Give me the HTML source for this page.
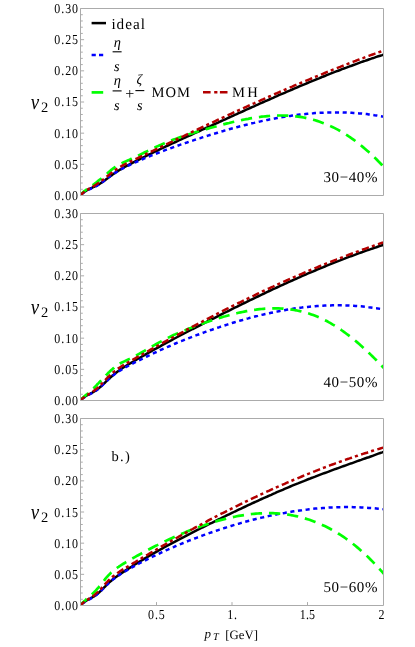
<!DOCTYPE html>
<html><head><meta charset="utf-8"><title>v2</title>
<style>
html,body{margin:0;padding:0;background:#fff;}
body{width:415px;height:647px;position:relative;overflow:hidden;font-family:"Liberation Serif",serif;}
</style></head><body>
<svg width="415" height="647" viewBox="0 0 415 647" style="position:absolute;left:0;top:0;will-change:transform">
<defs>
<clipPath id="c0"><rect x="80.5" y="8.5" width="303.0" height="187.0"/></clipPath>
<clipPath id="c1"><rect x="80.5" y="213.5" width="303.0" height="187.0"/></clipPath>
<clipPath id="c2"><rect x="80.5" y="418.5" width="303.0" height="187.0"/></clipPath>
</defs>
<g clip-path="url(#c0)" fill="none" stroke-width="2.8">
<path d="M80.5,195.3 L81.2,194.6 L81.8,194.0 L82.5,193.4 L83.2,192.8 L83.8,192.3 L84.5,191.8 L85.2,191.3 L85.9,190.9 L86.5,190.5 L87.2,190.1 L87.9,189.7 L88.5,189.4 L89.2,189.0 L89.9,188.7 L90.5,188.4 L91.2,188.1 L91.9,187.8 L92.6,187.5 L93.2,187.1 L93.9,186.8 L94.6,186.5 L95.2,186.2 L95.9,185.9 L96.6,185.6 L97.2,185.2 L97.9,184.9 L98.6,184.5 L99.2,184.1 L99.9,183.7 L100.6,183.3 L101.3,182.8 L101.9,182.4 L102.6,181.9 L103.3,181.5 L103.9,181.0 L104.6,180.5 L105.3,180.0 L105.9,179.5 L106.6,179.0 L107.3,178.5 L107.9,178.0 L108.6,177.5 L109.3,177.0 L110.0,176.5 L110.6,176.0 L111.3,175.6 L112.0,175.1 L112.6,174.6 L113.3,174.1 L114.0,173.6 L114.6,173.2 L115.3,172.7 L116.0,172.2 L116.7,171.8 L117.3,171.4 L118.0,170.9 L118.7,170.5 L119.3,170.1 L120.0,169.7 L121.9,168.6 L123.8,167.5 L125.7,166.4 L127.7,165.4 L129.6,164.4 L131.5,163.4 L133.4,162.4 L135.3,161.4 L137.2,160.4 L139.1,159.5 L141.1,158.5 L143.0,157.5 L144.9,156.6 L146.8,155.6 L148.7,154.7 L150.6,153.8 L152.5,152.8 L154.4,151.9 L156.4,151.0 L158.3,150.1 L160.2,149.1 L162.1,148.2 L164.0,147.3 L165.9,146.4 L167.8,145.5 L169.8,144.6 L171.7,143.7 L173.6,142.9 L175.5,142.0 L177.4,141.1 L179.3,140.2 L181.2,139.3 L183.2,138.4 L185.1,137.6 L187.0,136.7 L188.9,135.8 L190.8,135.0 L192.7,134.1 L194.6,133.2 L196.5,132.3 L198.5,131.5 L200.4,130.6 L202.3,129.7 L204.2,128.9 L206.1,128.0 L208.0,127.1 L209.9,126.3 L211.9,125.4 L213.8,124.5 L215.7,123.6 L217.6,122.8 L219.5,121.9 L221.4,121.0 L223.3,120.2 L225.3,119.3 L227.2,118.4 L229.1,117.5 L231.0,116.7 L232.9,115.8 L234.8,114.9 L236.7,114.1 L238.6,113.2 L240.6,112.3 L242.5,111.5 L244.4,110.6 L246.3,109.7 L248.2,108.9 L250.1,108.0 L252.0,107.1 L254.0,106.3 L255.9,105.4 L257.8,104.6 L259.7,103.7 L261.6,102.9 L263.5,102.0 L265.4,101.2 L267.4,100.3 L269.3,99.5 L271.2,98.6 L273.1,97.8 L275.0,96.9 L276.9,96.1 L278.8,95.2 L280.7,94.4 L282.7,93.6 L284.6,92.8 L286.5,91.9 L288.4,91.1 L290.3,90.3 L292.2,89.5 L294.1,88.6 L296.1,87.8 L298.0,87.0 L299.9,86.2 L301.8,85.4 L303.7,84.6 L305.6,83.8 L307.5,83.0 L309.5,82.2 L311.4,81.4 L313.3,80.6 L315.2,79.8 L317.1,79.0 L319.0,78.3 L320.9,77.5 L322.8,76.7 L324.8,76.0 L326.7,75.2 L328.6,74.4 L330.5,73.7 L332.4,72.9 L334.3,72.2 L336.2,71.4 L338.2,70.7 L340.1,70.0 L342.0,69.2 L343.9,68.5 L345.8,67.8 L347.7,67.1 L349.6,66.4 L351.6,65.7 L353.5,65.0 L355.4,64.3 L357.3,63.6 L359.2,62.9 L361.1,62.2 L363.0,61.5 L364.9,60.9 L366.9,60.2 L368.8,59.5 L370.7,58.9 L372.6,58.2 L374.5,57.6 L376.4,56.9 L378.3,56.3 L380.3,55.7 L382.2,55.1 L384.1,54.4 L386.0,53.8" stroke="#000" stroke-width="2.5"/>
<path d="M80.5,195.3 L81.2,194.6 L81.8,194.0 L82.5,193.4 L83.2,192.9 L83.8,192.4 L84.5,191.9 L85.2,191.5 L85.9,191.1 L86.5,190.7 L87.2,190.3 L87.9,190.0 L88.5,189.7 L89.2,189.4 L89.9,189.1 L90.5,188.8 L91.2,188.5 L91.9,188.2 L92.6,187.9 L93.2,187.6 L93.9,187.3 L94.6,187.0 L95.2,186.7 L95.9,186.3 L96.6,186.0 L97.2,185.6 L97.9,185.2 L98.6,184.8 L99.2,184.3 L99.9,183.9 L100.6,183.4 L101.3,182.9 L101.9,182.4 L102.6,181.9 L103.3,181.4 L103.9,180.9 L104.6,180.3 L105.3,179.8 L105.9,179.3 L106.6,178.8 L107.3,178.3 L107.9,177.7 L108.6,177.2 L109.3,176.8 L110.0,176.3 L110.6,175.8 L111.3,175.3 L112.0,174.9 L112.6,174.4 L113.3,174.0 L114.0,173.5 L114.6,173.1 L115.3,172.7 L116.0,172.3 L116.7,171.9 L117.3,171.5 L118.0,171.1 L118.7,170.7 L119.3,170.3 L120.0,169.9 L121.9,168.9 L123.8,167.9 L125.7,166.9 L127.7,165.9 L129.6,165.0 L131.5,164.1 L133.4,163.2 L135.3,162.4 L137.2,161.5 L139.1,160.7 L141.1,159.8 L143.0,159.0 L144.9,158.2 L146.8,157.4 L148.7,156.6 L150.6,155.8 L152.5,155.1 L154.4,154.3 L156.4,153.5 L158.3,152.8 L160.2,152.1 L162.1,151.3 L164.0,150.6 L165.9,149.9 L167.8,149.2 L169.8,148.5 L171.7,147.8 L173.6,147.1 L175.5,146.4 L177.4,145.8 L179.3,145.1 L181.2,144.4 L183.2,143.8 L185.1,143.1 L187.0,142.5 L188.9,141.8 L190.8,141.2 L192.7,140.6 L194.6,139.9 L196.5,139.3 L198.5,138.7 L200.4,138.1 L202.3,137.4 L204.2,136.8 L206.1,136.2 L208.0,135.6 L209.9,135.0 L211.9,134.4 L213.8,133.8 L215.7,133.3 L217.6,132.7 L219.5,132.1 L221.4,131.5 L223.3,131.0 L225.3,130.4 L227.2,129.9 L229.1,129.3 L231.0,128.8 L232.9,128.3 L234.8,127.7 L236.7,127.2 L238.6,126.7 L240.6,126.2 L242.5,125.7 L244.4,125.2 L246.3,124.7 L248.2,124.3 L250.1,123.8 L252.0,123.3 L254.0,122.9 L255.9,122.4 L257.8,122.0 L259.7,121.6 L261.6,121.1 L263.5,120.7 L265.4,120.3 L267.4,119.9 L269.3,119.5 L271.2,119.2 L273.1,118.8 L275.0,118.4 L276.9,118.1 L278.8,117.7 L280.7,117.4 L282.7,117.1 L284.6,116.8 L286.5,116.5 L288.4,116.2 L290.3,115.9 L292.2,115.6 L294.1,115.3 L296.1,115.1 L298.0,114.8 L299.9,114.6 L301.8,114.4 L303.7,114.2 L305.6,114.0 L307.5,113.8 L309.5,113.6 L311.4,113.4 L313.3,113.3 L315.2,113.1 L317.1,113.0 L319.0,112.9 L320.9,112.8 L322.8,112.7 L324.8,112.6 L326.7,112.5 L328.6,112.5 L330.5,112.4 L332.4,112.4 L334.3,112.4 L336.2,112.4 L338.2,112.4 L340.1,112.4 L342.0,112.4 L343.9,112.5 L345.8,112.5 L347.7,112.6 L349.6,112.7 L351.6,112.8 L353.5,112.9 L355.4,113.0 L357.3,113.2 L359.2,113.4 L361.1,113.5 L363.0,113.7 L364.9,113.9 L366.9,114.1 L368.8,114.4 L370.7,114.6 L372.6,114.9 L374.5,115.2 L376.4,115.4 L378.3,115.8 L380.3,116.1 L382.2,116.4 L384.1,116.8 L386.0,117.2" stroke="#0000ff" stroke-width="2.5" stroke-dasharray="4.1 3.6" stroke-dashoffset="5.82"/>
<path d="M80.5,195.3 L81.2,194.4 L81.8,193.7 L82.5,192.9 L83.2,192.3 L83.8,191.6 L84.5,191.1 L85.2,190.5 L85.9,190.0 L86.5,189.5 L87.2,189.1 L87.9,188.6 L88.5,188.2 L89.2,187.7 L89.9,187.3 L90.5,186.8 L91.2,186.3 L91.9,185.9 L92.6,185.4 L93.2,184.9 L93.9,184.4 L94.6,183.8 L95.2,183.3 L95.9,182.8 L96.6,182.2 L97.2,181.7 L97.9,181.1 L98.6,180.6 L99.2,180.0 L99.9,179.5 L100.6,179.0 L101.3,178.5 L101.9,177.9 L102.6,177.4 L103.3,176.8 L103.9,176.3 L104.6,175.7 L105.3,175.1 L105.9,174.6 L106.6,174.0 L107.3,173.4 L107.9,172.8 L108.6,172.2 L109.3,171.7 L110.0,171.1 L110.6,170.5 L111.3,169.9 L112.0,169.4 L112.6,168.9 L113.3,168.4 L114.0,167.9 L114.6,167.4 L115.3,167.0 L116.0,166.5 L116.7,166.1 L117.3,165.7 L118.0,165.3 L118.7,164.9 L119.3,164.5 L120.0,164.2 L121.9,163.2 L123.8,162.3 L125.7,161.4 L127.7,160.5 L129.6,159.7 L131.5,158.8 L133.4,157.9 L135.3,157.0 L137.2,156.1 L139.1,155.1 L141.1,154.2 L143.0,153.3 L144.9,152.3 L146.8,151.4 L148.7,150.5 L150.6,149.5 L152.5,148.6 L154.4,147.7 L156.4,146.8 L158.3,145.9 L160.2,145.1 L162.1,144.2 L164.0,143.4 L165.9,142.6 L167.8,141.8 L169.8,141.1 L171.7,140.3 L173.6,139.6 L175.5,138.9 L177.4,138.2 L179.3,137.5 L181.2,136.8 L183.2,136.2 L185.1,135.5 L187.0,134.9 L188.9,134.3 L190.8,133.7 L192.7,133.1 L194.6,132.5 L196.5,131.9 L198.5,131.3 L200.4,130.8 L202.3,130.2 L204.2,129.7 L206.1,129.1 L208.0,128.6 L209.9,128.0 L211.9,127.5 L213.8,127.0 L215.7,126.5 L217.6,125.9 L219.5,125.4 L221.4,124.9 L223.3,124.4 L225.3,123.9 L227.2,123.4 L229.1,123.0 L231.0,122.5 L232.9,122.0 L234.8,121.6 L236.7,121.1 L238.6,120.7 L240.6,120.3 L242.5,119.9 L244.4,119.5 L246.3,119.1 L248.2,118.8 L250.1,118.4 L252.0,118.1 L254.0,117.8 L255.9,117.5 L257.8,117.2 L259.7,117.0 L261.6,116.7 L263.5,116.5 L265.4,116.3 L267.4,116.1 L269.3,116.0 L271.2,115.8 L273.1,115.7 L275.0,115.6 L276.9,115.6 L278.8,115.5 L280.7,115.5 L282.7,115.5 L284.6,115.6 L286.5,115.6 L288.4,115.7 L290.3,115.8 L292.2,116.0 L294.1,116.2 L296.1,116.4 L298.0,116.6 L299.9,116.9 L301.8,117.2 L303.7,117.5 L305.6,117.9 L307.5,118.3 L309.5,118.8 L311.4,119.2 L313.3,119.7 L315.2,120.3 L317.1,120.9 L319.0,121.5 L320.9,122.2 L322.8,122.9 L324.8,123.6 L326.7,124.4 L328.6,125.2 L330.5,126.1 L332.4,127.0 L334.3,127.9 L336.2,128.9 L338.2,129.9 L340.1,131.0 L342.0,132.1 L343.9,133.3 L345.8,134.5 L347.7,135.7 L349.6,137.0 L351.6,138.3 L353.5,139.6 L355.4,141.0 L357.3,142.5 L359.2,144.0 L361.1,145.5 L363.0,147.1 L364.9,148.7 L366.9,150.4 L368.8,152.1 L370.7,153.8 L372.6,155.6 L374.5,157.4 L376.4,159.3 L378.3,161.3 L380.3,163.2 L382.2,165.2 L384.1,167.3 L386.0,169.4" stroke="#00ff00" stroke-width="2.7" stroke-dasharray="11.3 6.9" stroke-dashoffset="2.30"/>
<path d="M80.5,195.3 L81.2,194.6 L81.8,194.0 L82.5,193.3 L83.2,192.8 L83.8,192.2 L84.5,191.7 L85.2,191.2 L85.9,190.7 L86.5,190.3 L87.2,189.9 L87.9,189.5 L88.5,189.1 L89.2,188.7 L89.9,188.3 L90.5,187.9 L91.2,187.6 L91.9,187.2 L92.6,186.8 L93.2,186.4 L93.9,186.0 L94.6,185.6 L95.2,185.2 L95.9,184.8 L96.6,184.3 L97.2,183.9 L97.9,183.4 L98.6,182.9 L99.2,182.5 L99.9,182.0 L100.6,181.5 L101.3,181.0 L101.9,180.5 L102.6,179.9 L103.3,179.4 L103.9,178.9 L104.6,178.4 L105.3,177.8 L105.9,177.3 L106.6,176.8 L107.3,176.2 L107.9,175.7 L108.6,175.2 L109.3,174.7 L110.0,174.1 L110.6,173.6 L111.3,173.1 L112.0,172.6 L112.6,172.1 L113.3,171.6 L114.0,171.1 L114.6,170.6 L115.3,170.1 L116.0,169.6 L116.7,169.1 L117.3,168.7 L118.0,168.3 L118.7,167.8 L119.3,167.4 L120.0,167.0 L121.9,165.9 L123.8,164.8 L125.7,163.8 L127.7,162.9 L129.6,161.9 L131.5,161.0 L133.4,160.1 L135.3,159.2 L137.2,158.3 L139.1,157.4 L141.1,156.5 L143.0,155.5 L144.9,154.6 L146.8,153.7 L148.7,152.8 L150.6,151.9 L152.5,151.0 L154.4,150.0 L156.4,149.1 L158.3,148.2 L160.2,147.3 L162.1,146.4 L164.0,145.5 L165.9,144.5 L167.8,143.6 L169.8,142.7 L171.7,141.8 L173.6,140.9 L175.5,139.9 L177.4,139.0 L179.3,138.1 L181.2,137.2 L183.2,136.3 L185.1,135.4 L187.0,134.5 L188.9,133.5 L190.8,132.6 L192.7,131.7 L194.6,130.8 L196.5,129.9 L198.5,129.0 L200.4,128.1 L202.3,127.2 L204.2,126.3 L206.1,125.4 L208.0,124.5 L209.9,123.6 L211.9,122.7 L213.8,121.8 L215.7,120.9 L217.6,120.0 L219.5,119.1 L221.4,118.2 L223.3,117.3 L225.3,116.5 L227.2,115.6 L229.1,114.7 L231.0,113.8 L232.9,112.9 L234.8,112.0 L236.7,111.2 L238.6,110.3 L240.6,109.4 L242.5,108.5 L244.4,107.7 L246.3,106.8 L248.2,105.9 L250.1,105.1 L252.0,104.2 L254.0,103.4 L255.9,102.5 L257.8,101.6 L259.7,100.8 L261.6,99.9 L263.5,99.1 L265.4,98.2 L267.4,97.4 L269.3,96.5 L271.2,95.7 L273.1,94.8 L275.0,94.0 L276.9,93.2 L278.8,92.3 L280.7,91.5 L282.7,90.7 L284.6,89.8 L286.5,89.0 L288.4,88.2 L290.3,87.4 L292.2,86.6 L294.1,85.7 L296.1,84.9 L298.0,84.1 L299.9,83.3 L301.8,82.5 L303.7,81.7 L305.6,80.9 L307.5,80.1 L309.5,79.3 L311.4,78.5 L313.3,77.7 L315.2,76.9 L317.1,76.1 L319.0,75.3 L320.9,74.6 L322.8,73.8 L324.8,73.0 L326.7,72.2 L328.6,71.5 L330.5,70.7 L332.4,69.9 L334.3,69.2 L336.2,68.4 L338.2,67.6 L340.1,66.9 L342.0,66.1 L343.9,65.4 L345.8,64.6 L347.7,63.9 L349.6,63.2 L351.6,62.4 L353.5,61.7 L355.4,61.0 L357.3,60.2 L359.2,59.5 L361.1,58.8 L363.0,58.1 L364.9,57.3 L366.9,56.6 L368.8,55.9 L370.7,55.2 L372.6,54.5 L374.5,53.8 L376.4,53.1 L378.3,52.4 L380.3,51.7 L382.2,51.0 L384.1,50.4 L386.0,49.7" stroke="#b30000" stroke-width="2.5" stroke-dasharray="7.4 3.1 3.1 3.4" stroke-dashoffset="1.90"/>
</g>
<g stroke="#ababab" stroke-width="1" fill="none">
<path d="M80.5,195.5 V8.5 H383.5 V195.5 Z"/>
<path d="M80.5,195.50 h3.6 M80.5,189.27 h2.3 M80.5,183.03 h2.3 M80.5,176.80 h2.3 M80.5,170.57 h2.3 M80.5,164.33 h3.6 M80.5,158.10 h2.3 M80.5,151.87 h2.3 M80.5,145.63 h2.3 M80.5,139.40 h2.3 M80.5,133.17 h3.6 M80.5,126.93 h2.3 M80.5,120.70 h2.3 M80.5,114.47 h2.3 M80.5,108.23 h2.3 M80.5,102.00 h3.6 M80.5,95.77 h2.3 M80.5,89.53 h2.3 M80.5,83.30 h2.3 M80.5,77.07 h2.3 M80.5,70.83 h3.6 M80.5,64.60 h2.3 M80.5,58.37 h2.3 M80.5,52.13 h2.3 M80.5,45.90 h2.3 M80.5,39.67 h3.6 M80.5,33.43 h2.3 M80.5,27.20 h2.3 M80.5,20.97 h2.3 M80.5,14.73 h2.3 M80.5,8.50 h3.6"/>
</g>
<g clip-path="url(#c1)" fill="none" stroke-width="2.8">
<path d="M80.5,400.3 L81.2,399.6 L81.8,399.0 L82.5,398.4 L83.2,397.9 L83.8,397.4 L84.5,396.9 L85.2,396.4 L85.9,396.0 L86.5,395.6 L87.2,395.2 L87.9,394.8 L88.5,394.5 L89.2,394.1 L89.9,393.8 L90.5,393.5 L91.2,393.1 L91.9,392.8 L92.6,392.4 L93.2,392.0 L93.9,391.7 L94.6,391.3 L95.2,390.8 L95.9,390.4 L96.6,389.9 L97.2,389.5 L97.9,389.0 L98.6,388.4 L99.2,387.9 L99.9,387.3 L100.6,386.7 L101.3,386.1 L101.9,385.5 L102.6,384.9 L103.3,384.2 L103.9,383.6 L104.6,383.0 L105.3,382.3 L105.9,381.7 L106.6,381.0 L107.3,380.4 L107.9,379.7 L108.6,379.1 L109.3,378.5 L110.0,377.9 L110.6,377.3 L111.3,376.7 L112.0,376.1 L112.6,375.5 L113.3,374.9 L114.0,374.4 L114.6,373.8 L115.3,373.3 L116.0,372.8 L116.7,372.2 L117.3,371.7 L118.0,371.2 L118.7,370.7 L119.3,370.3 L120.0,369.8 L121.9,368.5 L123.8,367.3 L125.7,366.1 L127.7,364.9 L129.6,363.8 L131.5,362.6 L133.4,361.5 L135.3,360.3 L137.2,359.2 L139.1,358.1 L141.1,357.0 L143.0,355.9 L144.9,354.8 L146.8,353.7 L148.7,352.6 L150.6,351.6 L152.5,350.5 L154.4,349.4 L156.4,348.4 L158.3,347.3 L160.2,346.3 L162.1,345.2 L164.0,344.2 L165.9,343.1 L167.8,342.1 L169.8,341.1 L171.7,340.1 L173.6,339.0 L175.5,338.0 L177.4,337.0 L179.3,336.0 L181.2,335.0 L183.2,334.0 L185.1,333.0 L187.0,332.0 L188.9,331.0 L190.8,330.0 L192.7,329.0 L194.6,328.1 L196.5,327.1 L198.5,326.1 L200.4,325.1 L202.3,324.1 L204.2,323.1 L206.1,322.2 L208.0,321.2 L209.9,320.2 L211.9,319.2 L213.8,318.3 L215.7,317.3 L217.6,316.3 L219.5,315.4 L221.4,314.4 L223.3,313.4 L225.3,312.5 L227.2,311.5 L229.1,310.6 L231.0,309.6 L232.9,308.7 L234.8,307.7 L236.7,306.8 L238.6,305.8 L240.6,304.9 L242.5,303.9 L244.4,303.0 L246.3,302.1 L248.2,301.1 L250.1,300.2 L252.0,299.3 L254.0,298.3 L255.9,297.4 L257.8,296.5 L259.7,295.6 L261.6,294.7 L263.5,293.8 L265.4,292.8 L267.4,291.9 L269.3,291.0 L271.2,290.1 L273.1,289.2 L275.0,288.4 L276.9,287.5 L278.8,286.6 L280.7,285.7 L282.7,284.8 L284.6,283.9 L286.5,283.1 L288.4,282.2 L290.3,281.3 L292.2,280.5 L294.1,279.6 L296.1,278.8 L298.0,277.9 L299.9,277.1 L301.8,276.2 L303.7,275.4 L305.6,274.6 L307.5,273.7 L309.5,272.9 L311.4,272.1 L313.3,271.3 L315.2,270.5 L317.1,269.7 L319.0,268.9 L320.9,268.1 L322.8,267.3 L324.8,266.5 L326.7,265.7 L328.6,264.9 L330.5,264.2 L332.4,263.4 L334.3,262.6 L336.2,261.9 L338.2,261.1 L340.1,260.4 L342.0,259.6 L343.9,258.9 L345.8,258.1 L347.7,257.4 L349.6,256.7 L351.6,256.0 L353.5,255.3 L355.4,254.6 L357.3,253.9 L359.2,253.2 L361.1,252.5 L363.0,251.8 L364.9,251.1 L366.9,250.4 L368.8,249.8 L370.7,249.1 L372.6,248.5 L374.5,247.8 L376.4,247.2 L378.3,246.5 L380.3,245.9 L382.2,245.3 L384.1,244.7 L386.0,244.1" stroke="#000" stroke-width="2.5"/>
<path d="M80.5,400.3 L81.2,399.7 L81.8,399.1 L82.5,398.6 L83.2,398.1 L83.8,397.6 L84.5,397.2 L85.2,396.8 L85.9,396.4 L86.5,396.0 L87.2,395.6 L87.9,395.2 L88.5,394.9 L89.2,394.6 L89.9,394.2 L90.5,393.9 L91.2,393.5 L91.9,393.2 L92.6,392.8 L93.2,392.4 L93.9,392.0 L94.6,391.6 L95.2,391.2 L95.9,390.7 L96.6,390.2 L97.2,389.7 L97.9,389.2 L98.6,388.7 L99.2,388.1 L99.9,387.5 L100.6,386.9 L101.3,386.3 L101.9,385.7 L102.6,385.0 L103.3,384.4 L103.9,383.7 L104.6,383.1 L105.3,382.4 L105.9,381.8 L106.6,381.1 L107.3,380.5 L107.9,379.9 L108.6,379.2 L109.3,378.6 L110.0,378.0 L110.6,377.5 L111.3,376.9 L112.0,376.3 L112.6,375.8 L113.3,375.3 L114.0,374.7 L114.6,374.2 L115.3,373.7 L116.0,373.3 L116.7,372.8 L117.3,372.3 L118.0,371.9 L118.7,371.4 L119.3,371.0 L120.0,370.6 L121.9,369.4 L123.8,368.3 L125.7,367.2 L127.7,366.2 L129.6,365.2 L131.5,364.2 L133.4,363.2 L135.3,362.2 L137.2,361.2 L139.1,360.3 L141.1,359.3 L143.0,358.4 L144.9,357.4 L146.8,356.5 L148.7,355.6 L150.6,354.6 L152.5,353.7 L154.4,352.8 L156.4,352.0 L158.3,351.1 L160.2,350.2 L162.1,349.3 L164.0,348.5 L165.9,347.6 L167.8,346.8 L169.8,346.0 L171.7,345.1 L173.6,344.3 L175.5,343.5 L177.4,342.7 L179.3,341.9 L181.2,341.2 L183.2,340.4 L185.1,339.6 L187.0,338.9 L188.9,338.1 L190.8,337.4 L192.7,336.6 L194.6,335.9 L196.5,335.2 L198.5,334.5 L200.4,333.8 L202.3,333.1 L204.2,332.4 L206.1,331.7 L208.0,331.0 L209.9,330.3 L211.9,329.7 L213.8,329.0 L215.7,328.3 L217.6,327.7 L219.5,327.1 L221.4,326.4 L223.3,325.8 L225.3,325.2 L227.2,324.6 L229.1,324.0 L231.0,323.4 L232.9,322.8 L234.8,322.2 L236.7,321.6 L238.6,321.1 L240.6,320.5 L242.5,320.0 L244.4,319.4 L246.3,318.9 L248.2,318.4 L250.1,317.8 L252.0,317.3 L254.0,316.8 L255.9,316.3 L257.8,315.9 L259.7,315.4 L261.6,314.9 L263.5,314.5 L265.4,314.0 L267.4,313.6 L269.3,313.2 L271.2,312.8 L273.1,312.4 L275.0,312.0 L276.9,311.6 L278.8,311.2 L280.7,310.8 L282.7,310.5 L284.6,310.2 L286.5,309.8 L288.4,309.5 L290.3,309.2 L292.2,308.9 L294.1,308.6 L296.1,308.3 L298.0,308.1 L299.9,307.8 L301.8,307.6 L303.7,307.3 L305.6,307.1 L307.5,306.9 L309.5,306.7 L311.4,306.5 L313.3,306.4 L315.2,306.2 L317.1,306.0 L319.0,305.9 L320.9,305.8 L322.8,305.7 L324.8,305.6 L326.7,305.5 L328.6,305.4 L330.5,305.4 L332.4,305.3 L334.3,305.3 L336.2,305.3 L338.2,305.3 L340.1,305.3 L342.0,305.3 L343.9,305.4 L345.8,305.4 L347.7,305.5 L349.6,305.6 L351.6,305.7 L353.5,305.8 L355.4,305.9 L357.3,306.0 L359.2,306.2 L361.1,306.3 L363.0,306.5 L364.9,306.7 L366.9,306.9 L368.8,307.2 L370.7,307.4 L372.6,307.7 L374.5,308.0 L376.4,308.2 L378.3,308.6 L380.3,308.9 L382.2,309.2 L384.1,309.6 L386.0,309.9" stroke="#0000ff" stroke-width="2.5" stroke-dasharray="4.1 3.6" stroke-dashoffset="5.65"/>
<path d="M80.5,400.3 L81.2,399.5 L81.8,398.8 L82.5,398.1 L83.2,397.4 L83.8,396.8 L84.5,396.2 L85.2,395.6 L85.9,395.1 L86.5,394.5 L87.2,394.0 L87.9,393.4 L88.5,392.9 L89.2,392.3 L89.9,391.7 L90.5,391.1 L91.2,390.5 L91.9,389.9 L92.6,389.3 L93.2,388.6 L93.9,388.0 L94.6,387.3 L95.2,386.6 L95.9,385.9 L96.6,385.2 L97.2,384.5 L97.9,383.8 L98.6,383.1 L99.2,382.4 L99.9,381.7 L100.6,381.0 L101.3,380.3 L101.9,379.6 L102.6,378.9 L103.3,378.1 L103.9,377.4 L104.6,376.7 L105.3,376.0 L105.9,375.3 L106.6,374.7 L107.3,374.0 L107.9,373.3 L108.6,372.6 L109.3,372.0 L110.0,371.3 L110.6,370.7 L111.3,370.1 L112.0,369.5 L112.6,368.9 L113.3,368.3 L114.0,367.8 L114.6,367.2 L115.3,366.7 L116.0,366.2 L116.7,365.7 L117.3,365.2 L118.0,364.8 L118.7,364.3 L119.3,363.9 L120.0,363.5 L121.9,362.5 L123.8,361.6 L125.7,360.7 L127.7,359.8 L129.6,358.9 L131.5,358.0 L133.4,357.0 L135.3,356.0 L137.2,354.9 L139.1,353.9 L141.1,352.8 L143.0,351.7 L144.9,350.6 L146.8,349.5 L148.7,348.4 L150.6,347.3 L152.5,346.2 L154.4,345.1 L156.4,344.0 L158.3,342.9 L160.2,341.9 L162.1,340.9 L164.0,339.8 L165.9,338.9 L167.8,337.9 L169.8,337.0 L171.7,336.0 L173.6,335.1 L175.5,334.3 L177.4,333.4 L179.3,332.6 L181.2,331.8 L183.2,330.9 L185.1,330.2 L187.0,329.4 L188.9,328.6 L190.8,327.9 L192.7,327.1 L194.6,326.4 L196.5,325.7 L198.5,325.0 L200.4,324.3 L202.3,323.7 L204.2,323.0 L206.1,322.3 L208.0,321.7 L209.9,321.0 L211.9,320.4 L213.8,319.8 L215.7,319.2 L217.6,318.6 L219.5,318.0 L221.4,317.4 L223.3,316.8 L225.3,316.3 L227.2,315.7 L229.1,315.2 L231.0,314.7 L232.9,314.2 L234.8,313.7 L236.7,313.3 L238.6,312.8 L240.6,312.4 L242.5,312.0 L244.4,311.6 L246.3,311.2 L248.2,310.9 L250.1,310.5 L252.0,310.2 L254.0,309.9 L255.9,309.7 L257.8,309.4 L259.7,309.2 L261.6,309.0 L263.5,308.8 L265.4,308.7 L267.4,308.6 L269.3,308.5 L271.2,308.4 L273.1,308.4 L275.0,308.4 L276.9,308.4 L278.8,308.4 L280.7,308.5 L282.7,308.6 L284.6,308.8 L286.5,309.0 L288.4,309.2 L290.3,309.4 L292.2,309.7 L294.1,310.0 L296.1,310.3 L298.0,310.7 L299.9,311.1 L301.8,311.6 L303.7,312.0 L305.6,312.6 L307.5,313.1 L309.5,313.7 L311.4,314.4 L313.3,315.1 L315.2,315.8 L317.1,316.6 L319.0,317.4 L320.9,318.2 L322.8,319.1 L324.8,320.1 L326.7,321.0 L328.6,322.1 L330.5,323.1 L332.4,324.3 L334.3,325.4 L336.2,326.6 L338.2,327.9 L340.1,329.1 L342.0,330.5 L343.9,331.8 L345.8,333.2 L347.7,334.7 L349.6,336.1 L351.6,337.7 L353.5,339.2 L355.4,340.8 L357.3,342.4 L359.2,344.0 L361.1,345.7 L363.0,347.4 L364.9,349.2 L366.9,351.0 L368.8,352.8 L370.7,354.6 L372.6,356.5 L374.5,358.4 L376.4,360.3 L378.3,362.3 L380.3,364.3 L382.2,366.3 L384.1,368.3 L386.0,370.4" stroke="#00ff00" stroke-width="2.7" stroke-dasharray="11.3 6.9" stroke-dashoffset="0.73"/>
<path d="M80.5,400.3 L81.2,399.6 L81.8,399.0 L82.5,398.4 L83.2,397.9 L83.8,397.4 L84.5,396.9 L85.2,396.4 L85.9,395.9 L86.5,395.5 L87.2,395.1 L87.9,394.7 L88.5,394.2 L89.2,393.8 L89.9,393.4 L90.5,393.0 L91.2,392.6 L91.9,392.2 L92.6,391.7 L93.2,391.3 L93.9,390.8 L94.6,390.3 L95.2,389.8 L95.9,389.3 L96.6,388.7 L97.2,388.2 L97.9,387.6 L98.6,386.9 L99.2,386.3 L99.9,385.6 L100.6,384.9 L101.3,384.3 L101.9,383.5 L102.6,382.8 L103.3,382.1 L103.9,381.4 L104.6,380.7 L105.3,380.0 L105.9,379.3 L106.6,378.6 L107.3,377.9 L107.9,377.2 L108.6,376.5 L109.3,375.9 L110.0,375.2 L110.6,374.6 L111.3,374.0 L112.0,373.4 L112.6,372.8 L113.3,372.2 L114.0,371.7 L114.6,371.1 L115.3,370.6 L116.0,370.1 L116.7,369.6 L117.3,369.1 L118.0,368.6 L118.7,368.2 L119.3,367.7 L120.0,367.3 L121.9,366.0 L123.8,364.9 L125.7,363.8 L127.7,362.7 L129.6,361.6 L131.5,360.5 L133.4,359.4 L135.3,358.3 L137.2,357.2 L139.1,356.2 L141.1,355.1 L143.0,354.0 L144.9,352.9 L146.8,351.9 L148.7,350.8 L150.6,349.7 L152.5,348.6 L154.4,347.6 L156.4,346.5 L158.3,345.4 L160.2,344.4 L162.1,343.3 L164.0,342.2 L165.9,341.2 L167.8,340.1 L169.8,339.1 L171.7,338.0 L173.6,337.0 L175.5,335.9 L177.4,334.9 L179.3,333.9 L181.2,332.8 L183.2,331.8 L185.1,330.7 L187.0,329.7 L188.9,328.7 L190.8,327.7 L192.7,326.6 L194.6,325.6 L196.5,324.6 L198.5,323.6 L200.4,322.6 L202.3,321.6 L204.2,320.5 L206.1,319.5 L208.0,318.5 L209.9,317.6 L211.9,316.6 L213.8,315.6 L215.7,314.6 L217.6,313.6 L219.5,312.6 L221.4,311.6 L223.3,310.7 L225.3,309.7 L227.2,308.7 L229.1,307.8 L231.0,306.8 L232.9,305.8 L234.8,304.9 L236.7,303.9 L238.6,303.0 L240.6,302.1 L242.5,301.1 L244.4,300.2 L246.3,299.2 L248.2,298.3 L250.1,297.4 L252.0,296.5 L254.0,295.6 L255.9,294.6 L257.8,293.7 L259.7,292.8 L261.6,291.9 L263.5,291.0 L265.4,290.1 L267.4,289.2 L269.3,288.3 L271.2,287.4 L273.1,286.6 L275.0,285.7 L276.9,284.8 L278.8,283.9 L280.7,283.1 L282.7,282.2 L284.6,281.3 L286.5,280.5 L288.4,279.6 L290.3,278.8 L292.2,277.9 L294.1,277.1 L296.1,276.3 L298.0,275.4 L299.9,274.6 L301.8,273.8 L303.7,273.0 L305.6,272.1 L307.5,271.3 L309.5,270.5 L311.4,269.7 L313.3,268.9 L315.2,268.1 L317.1,267.3 L319.0,266.5 L320.9,265.7 L322.8,265.0 L324.8,264.2 L326.7,263.4 L328.6,262.6 L330.5,261.9 L332.4,261.1 L334.3,260.3 L336.2,259.6 L338.2,258.8 L340.1,258.1 L342.0,257.4 L343.9,256.6 L345.8,255.9 L347.7,255.2 L349.6,254.4 L351.6,253.7 L353.5,253.0 L355.4,252.3 L357.3,251.6 L359.2,250.9 L361.1,250.2 L363.0,249.5 L364.9,248.8 L366.9,248.1 L368.8,247.4 L370.7,246.7 L372.6,246.1 L374.5,245.4 L376.4,244.7 L378.3,244.1 L380.3,243.4 L382.2,242.8 L384.1,242.1 L386.0,241.5" stroke="#b30000" stroke-width="2.5" stroke-dasharray="7.4 3.1 3.1 3.4" stroke-dashoffset="1.88"/>
</g>
<g stroke="#ababab" stroke-width="1" fill="none">
<path d="M80.5,400.5 V213.5 H383.5 V400.5 Z"/>
<path d="M80.5,400.50 h3.6 M80.5,394.27 h2.3 M80.5,388.03 h2.3 M80.5,381.80 h2.3 M80.5,375.57 h2.3 M80.5,369.33 h3.6 M80.5,363.10 h2.3 M80.5,356.87 h2.3 M80.5,350.63 h2.3 M80.5,344.40 h2.3 M80.5,338.17 h3.6 M80.5,331.93 h2.3 M80.5,325.70 h2.3 M80.5,319.47 h2.3 M80.5,313.23 h2.3 M80.5,307.00 h3.6 M80.5,300.77 h2.3 M80.5,294.53 h2.3 M80.5,288.30 h2.3 M80.5,282.07 h2.3 M80.5,275.83 h3.6 M80.5,269.60 h2.3 M80.5,263.37 h2.3 M80.5,257.13 h2.3 M80.5,250.90 h2.3 M80.5,244.67 h3.6 M80.5,238.43 h2.3 M80.5,232.20 h2.3 M80.5,225.97 h2.3 M80.5,219.73 h2.3 M80.5,213.50 h3.6"/>
</g>
<g clip-path="url(#c2)" fill="none" stroke-width="2.8">
<path d="M80.5,605.3 L81.2,604.6 L81.8,604.0 L82.5,603.4 L83.2,602.8 L83.8,602.3 L84.5,601.8 L85.2,601.3 L85.9,600.9 L86.5,600.5 L87.2,600.1 L87.9,599.7 L88.5,599.3 L89.2,599.0 L89.9,598.6 L90.5,598.3 L91.2,597.9 L91.9,597.5 L92.6,597.2 L93.2,596.8 L93.9,596.4 L94.6,595.9 L95.2,595.5 L95.9,595.0 L96.6,594.5 L97.2,594.0 L97.9,593.4 L98.6,592.9 L99.2,592.3 L99.9,591.6 L100.6,591.0 L101.3,590.3 L101.9,589.7 L102.6,589.0 L103.3,588.3 L103.9,587.6 L104.6,587.0 L105.3,586.3 L105.9,585.6 L106.6,584.9 L107.3,584.3 L107.9,583.6 L108.6,583.0 L109.3,582.4 L110.0,581.8 L110.6,581.3 L111.3,580.7 L112.0,580.1 L112.6,579.6 L113.3,579.1 L114.0,578.6 L114.6,578.1 L115.3,577.6 L116.0,577.1 L116.7,576.6 L117.3,576.1 L118.0,575.6 L118.7,575.2 L119.3,574.7 L120.0,574.2 L121.9,572.9 L123.8,571.6 L125.7,570.4 L127.7,569.1 L129.6,567.9 L131.5,566.7 L133.4,565.5 L135.3,564.3 L137.2,563.1 L139.1,561.9 L141.1,560.7 L143.0,559.6 L144.9,558.4 L146.8,557.3 L148.7,556.2 L150.6,555.1 L152.5,554.0 L154.4,552.9 L156.4,551.8 L158.3,550.7 L160.2,549.6 L162.1,548.6 L164.0,547.5 L165.9,546.4 L167.8,545.4 L169.8,544.4 L171.7,543.3 L173.6,542.3 L175.5,541.3 L177.4,540.3 L179.3,539.3 L181.2,538.3 L183.2,537.3 L185.1,536.3 L187.0,535.3 L188.9,534.3 L190.8,533.4 L192.7,532.4 L194.6,531.4 L196.5,530.4 L198.5,529.5 L200.4,528.5 L202.3,527.5 L204.2,526.6 L206.1,525.6 L208.0,524.7 L209.9,523.7 L211.9,522.8 L213.8,521.8 L215.7,520.9 L217.6,519.9 L219.5,519.0 L221.4,518.0 L223.3,517.1 L225.3,516.2 L227.2,515.2 L229.1,514.3 L231.0,513.4 L232.9,512.5 L234.8,511.5 L236.7,510.6 L238.6,509.7 L240.6,508.8 L242.5,507.9 L244.4,507.0 L246.3,506.1 L248.2,505.2 L250.1,504.3 L252.0,503.4 L254.0,502.5 L255.9,501.7 L257.8,500.8 L259.7,499.9 L261.6,499.0 L263.5,498.2 L265.4,497.3 L267.4,496.5 L269.3,495.6 L271.2,494.8 L273.1,493.9 L275.0,493.1 L276.9,492.2 L278.8,491.4 L280.7,490.6 L282.7,489.8 L284.6,488.9 L286.5,488.1 L288.4,487.3 L290.3,486.5 L292.2,485.7 L294.1,484.9 L296.1,484.1 L298.0,483.4 L299.9,482.6 L301.8,481.8 L303.7,481.1 L305.6,480.3 L307.5,479.5 L309.5,478.8 L311.4,478.0 L313.3,477.3 L315.2,476.6 L317.1,475.8 L319.0,475.1 L320.9,474.4 L322.8,473.7 L324.8,473.0 L326.7,472.3 L328.6,471.6 L330.5,470.8 L332.4,470.1 L334.3,469.4 L336.2,468.8 L338.2,468.1 L340.1,467.4 L342.0,466.7 L343.9,466.0 L345.8,465.3 L347.7,464.6 L349.6,463.9 L351.6,463.3 L353.5,462.6 L355.4,461.9 L357.3,461.2 L359.2,460.5 L361.1,459.9 L363.0,459.2 L364.9,458.5 L366.9,457.8 L368.8,457.2 L370.7,456.5 L372.6,455.8 L374.5,455.1 L376.4,454.4 L378.3,453.7 L380.3,453.0 L382.2,452.4 L384.1,451.7 L386.0,451.0" stroke="#000" stroke-width="2.5"/>
<path d="M80.5,605.3 L81.2,604.7 L81.8,604.1 L82.5,603.6 L83.2,603.1 L83.8,602.6 L84.5,602.2 L85.2,601.7 L85.9,601.3 L86.5,600.9 L87.2,600.6 L87.9,600.2 L88.5,599.8 L89.2,599.4 L89.9,599.1 L90.5,598.7 L91.2,598.3 L91.9,597.9 L92.6,597.5 L93.2,597.1 L93.9,596.7 L94.6,596.2 L95.2,595.8 L95.9,595.3 L96.6,594.8 L97.2,594.2 L97.9,593.7 L98.6,593.1 L99.2,592.5 L99.9,591.8 L100.6,591.2 L101.3,590.5 L101.9,589.9 L102.6,589.2 L103.3,588.5 L103.9,587.8 L104.6,587.2 L105.3,586.5 L105.9,585.8 L106.6,585.1 L107.3,584.5 L107.9,583.8 L108.6,583.2 L109.3,582.6 L110.0,582.0 L110.6,581.4 L111.3,580.8 L112.0,580.3 L112.6,579.7 L113.3,579.2 L114.0,578.7 L114.6,578.2 L115.3,577.7 L116.0,577.2 L116.7,576.7 L117.3,576.2 L118.0,575.8 L118.7,575.3 L119.3,574.9 L120.0,574.4 L121.9,573.2 L123.8,572.1 L125.7,571.0 L127.7,569.9 L129.6,568.8 L131.5,567.7 L133.4,566.6 L135.3,565.6 L137.2,564.6 L139.1,563.5 L141.1,562.5 L143.0,561.5 L144.9,560.6 L146.8,559.6 L148.7,558.6 L150.6,557.7 L152.5,556.7 L154.4,555.8 L156.4,554.9 L158.3,554.0 L160.2,553.1 L162.1,552.2 L164.0,551.3 L165.9,550.4 L167.8,549.6 L169.8,548.7 L171.7,547.9 L173.6,547.1 L175.5,546.2 L177.4,545.4 L179.3,544.6 L181.2,543.8 L183.2,543.0 L185.1,542.3 L187.0,541.5 L188.9,540.7 L190.8,540.0 L192.7,539.2 L194.6,538.5 L196.5,537.8 L198.5,537.1 L200.4,536.4 L202.3,535.6 L204.2,534.9 L206.1,534.3 L208.0,533.6 L209.9,532.9 L211.9,532.2 L213.8,531.6 L215.7,530.9 L217.6,530.3 L219.5,529.6 L221.4,529.0 L223.3,528.4 L225.3,527.8 L227.2,527.1 L229.1,526.6 L231.0,526.0 L232.9,525.4 L234.8,524.8 L236.7,524.2 L238.6,523.7 L240.6,523.1 L242.5,522.6 L244.4,522.0 L246.3,521.5 L248.2,521.0 L250.1,520.5 L252.0,520.0 L254.0,519.5 L255.9,519.0 L257.8,518.5 L259.7,518.1 L261.6,517.6 L263.5,517.2 L265.4,516.7 L267.4,516.3 L269.3,515.9 L271.2,515.5 L273.1,515.1 L275.0,514.7 L276.9,514.3 L278.8,513.9 L280.7,513.6 L282.7,513.2 L284.6,512.9 L286.5,512.5 L288.4,512.2 L290.3,511.9 L292.2,511.6 L294.1,511.3 L296.1,511.0 L298.0,510.7 L299.9,510.4 L301.8,510.2 L303.7,509.9 L305.6,509.7 L307.5,509.5 L309.5,509.2 L311.4,509.0 L313.3,508.8 L315.2,508.6 L317.1,508.5 L319.0,508.3 L320.9,508.2 L322.8,508.0 L324.8,507.9 L326.7,507.8 L328.6,507.6 L330.5,507.5 L332.4,507.4 L334.3,507.4 L336.2,507.3 L338.2,507.2 L340.1,507.2 L342.0,507.2 L343.9,507.1 L345.8,507.1 L347.7,507.1 L349.6,507.1 L351.6,507.1 L353.5,507.2 L355.4,507.2 L357.3,507.3 L359.2,507.3 L361.1,507.4 L363.0,507.5 L364.9,507.6 L366.9,507.7 L368.8,507.9 L370.7,508.0 L372.6,508.1 L374.5,508.3 L376.4,508.5 L378.3,508.7 L380.3,508.9 L382.2,509.1 L384.1,509.3 L386.0,509.5" stroke="#0000ff" stroke-width="2.5" stroke-dasharray="4.1 3.6" stroke-dashoffset="5.77"/>
<path d="M80.5,605.3 L81.2,604.5 L81.8,603.7 L82.5,603.0 L83.2,602.3 L83.8,601.6 L84.5,601.0 L85.2,600.4 L85.9,599.7 L86.5,599.1 L87.2,598.6 L87.9,598.0 L88.5,597.4 L89.2,596.8 L89.9,596.2 L90.5,595.6 L91.2,595.0 L91.9,594.4 L92.6,593.7 L93.2,593.1 L93.9,592.4 L94.6,591.8 L95.2,591.1 L95.9,590.4 L96.6,589.6 L97.2,588.9 L97.9,588.1 L98.6,587.3 L99.2,586.5 L99.9,585.7 L100.6,584.9 L101.3,584.0 L101.9,583.2 L102.6,582.3 L103.3,581.5 L103.9,580.7 L104.6,579.8 L105.3,579.0 L105.9,578.2 L106.6,577.4 L107.3,576.6 L107.9,575.9 L108.6,575.1 L109.3,574.5 L110.0,573.8 L110.6,573.1 L111.3,572.5 L112.0,571.9 L112.6,571.3 L113.3,570.8 L114.0,570.2 L114.6,569.7 L115.3,569.2 L116.0,568.7 L116.7,568.2 L117.3,567.7 L118.0,567.2 L118.7,566.8 L119.3,566.3 L120.0,565.9 L121.9,564.7 L123.8,563.5 L125.7,562.3 L127.7,561.2 L129.6,560.1 L131.5,559.0 L133.4,557.9 L135.3,556.8 L137.2,555.7 L139.1,554.7 L141.1,553.6 L143.0,552.6 L144.9,551.5 L146.8,550.5 L148.7,549.5 L150.6,548.5 L152.5,547.5 L154.4,546.5 L156.4,545.6 L158.3,544.6 L160.2,543.7 L162.1,542.7 L164.0,541.8 L165.9,540.9 L167.8,540.0 L169.8,539.1 L171.7,538.2 L173.6,537.3 L175.5,536.5 L177.4,535.6 L179.3,534.8 L181.2,534.0 L183.2,533.2 L185.1,532.4 L187.0,531.6 L188.9,530.8 L190.8,530.1 L192.7,529.3 L194.6,528.6 L196.5,527.9 L198.5,527.2 L200.4,526.5 L202.3,525.8 L204.2,525.2 L206.1,524.5 L208.0,523.9 L209.9,523.3 L211.9,522.7 L213.8,522.1 L215.7,521.5 L217.6,520.9 L219.5,520.4 L221.4,519.9 L223.3,519.4 L225.3,518.9 L227.2,518.4 L229.1,517.9 L231.0,517.5 L232.9,517.1 L234.8,516.7 L236.7,516.3 L238.6,515.9 L240.6,515.6 L242.5,515.3 L244.4,515.0 L246.3,514.7 L248.2,514.4 L250.1,514.2 L252.0,514.0 L254.0,513.8 L255.9,513.6 L257.8,513.5 L259.7,513.4 L261.6,513.3 L263.5,513.2 L265.4,513.2 L267.4,513.1 L269.3,513.1 L271.2,513.2 L273.1,513.2 L275.0,513.3 L276.9,513.4 L278.8,513.6 L280.7,513.7 L282.7,513.9 L284.6,514.1 L286.5,514.4 L288.4,514.7 L290.3,515.0 L292.2,515.3 L294.1,515.7 L296.1,516.1 L298.0,516.5 L299.9,517.0 L301.8,517.5 L303.7,518.0 L305.6,518.6 L307.5,519.2 L309.5,519.8 L311.4,520.5 L313.3,521.2 L315.2,521.9 L317.1,522.7 L319.0,523.5 L320.9,524.3 L322.8,525.2 L324.8,526.1 L326.7,527.0 L328.6,528.0 L330.5,529.0 L332.4,530.1 L334.3,531.2 L336.2,532.3 L338.2,533.5 L340.1,534.7 L342.0,535.9 L343.9,537.2 L345.8,538.5 L347.7,539.9 L349.6,541.3 L351.6,542.8 L353.5,544.3 L355.4,545.8 L357.3,547.4 L359.2,549.0 L361.1,550.7 L363.0,552.4 L364.9,554.1 L366.9,555.9 L368.8,557.8 L370.7,559.7 L372.6,561.6 L374.5,563.6 L376.4,565.6 L378.3,567.7 L380.3,569.8 L382.2,571.9 L384.1,574.1 L386.0,576.4" stroke="#00ff00" stroke-width="2.7" stroke-dasharray="11.3 6.9" stroke-dashoffset="2.39"/>
<path d="M80.5,605.3 L81.2,604.6 L81.8,604.0 L82.5,603.4 L83.2,602.8 L83.8,602.3 L84.5,601.8 L85.2,601.3 L85.9,600.8 L86.5,600.4 L87.2,599.9 L87.9,599.5 L88.5,599.1 L89.2,598.7 L89.9,598.2 L90.5,597.8 L91.2,597.4 L91.9,596.9 L92.6,596.5 L93.2,596.0 L93.9,595.5 L94.6,594.9 L95.2,594.4 L95.9,593.8 L96.6,593.2 L97.2,592.6 L97.9,592.0 L98.6,591.3 L99.2,590.6 L99.9,589.9 L100.6,589.2 L101.3,588.5 L101.9,587.7 L102.6,587.0 L103.3,586.2 L103.9,585.5 L104.6,584.7 L105.3,584.0 L105.9,583.2 L106.6,582.5 L107.3,581.8 L107.9,581.1 L108.6,580.4 L109.3,579.8 L110.0,579.1 L110.6,578.5 L111.3,577.9 L112.0,577.3 L112.6,576.8 L113.3,576.2 L114.0,575.7 L114.6,575.2 L115.3,574.6 L116.0,574.1 L116.7,573.7 L117.3,573.2 L118.0,572.7 L118.7,572.2 L119.3,571.8 L120.0,571.3 L121.9,570.1 L123.8,568.9 L125.7,567.7 L127.7,566.6 L129.6,565.4 L131.5,564.3 L133.4,563.1 L135.3,562.0 L137.2,560.8 L139.1,559.7 L141.1,558.6 L143.0,557.4 L144.9,556.3 L146.8,555.2 L148.7,554.0 L150.6,552.9 L152.5,551.8 L154.4,550.7 L156.4,549.6 L158.3,548.4 L160.2,547.3 L162.1,546.2 L164.0,545.1 L165.9,544.0 L167.8,542.9 L169.8,541.8 L171.7,540.7 L173.6,539.7 L175.5,538.6 L177.4,537.5 L179.3,536.4 L181.2,535.3 L183.2,534.3 L185.1,533.2 L187.0,532.2 L188.9,531.1 L190.8,530.0 L192.7,529.0 L194.6,527.9 L196.5,526.9 L198.5,525.9 L200.4,524.8 L202.3,523.8 L204.2,522.8 L206.1,521.8 L208.0,520.7 L209.9,519.7 L211.9,518.7 L213.8,517.7 L215.7,516.7 L217.6,515.7 L219.5,514.7 L221.4,513.7 L223.3,512.8 L225.3,511.8 L227.2,510.8 L229.1,509.9 L231.0,508.9 L232.9,507.9 L234.8,507.0 L236.7,506.0 L238.6,505.1 L240.6,504.1 L242.5,503.2 L244.4,502.3 L246.3,501.3 L248.2,500.4 L250.1,499.5 L252.0,498.6 L254.0,497.7 L255.9,496.8 L257.8,495.9 L259.7,495.0 L261.6,494.1 L263.5,493.2 L265.4,492.3 L267.4,491.4 L269.3,490.6 L271.2,489.7 L273.1,488.8 L275.0,488.0 L276.9,487.1 L278.8,486.3 L280.7,485.4 L282.7,484.6 L284.6,483.8 L286.5,482.9 L288.4,482.1 L290.3,481.3 L292.2,480.5 L294.1,479.7 L296.1,478.9 L298.0,478.1 L299.9,477.3 L301.8,476.5 L303.7,475.7 L305.6,474.9 L307.5,474.1 L309.5,473.4 L311.4,472.6 L313.3,471.8 L315.2,471.1 L317.1,470.3 L319.0,469.6 L320.9,468.9 L322.8,468.1 L324.8,467.4 L326.7,466.7 L328.6,465.9 L330.5,465.2 L332.4,464.5 L334.3,463.8 L336.2,463.1 L338.2,462.4 L340.1,461.7 L342.0,461.1 L343.9,460.4 L345.8,459.7 L347.7,459.0 L349.6,458.4 L351.6,457.7 L353.5,457.1 L355.4,456.4 L357.3,455.8 L359.2,455.1 L361.1,454.5 L363.0,453.9 L364.9,453.3 L366.9,452.7 L368.8,452.0 L370.7,451.4 L372.6,450.8 L374.5,450.2 L376.4,449.7 L378.3,449.1 L380.3,448.5 L382.2,447.9 L384.1,447.4 L386.0,446.8" stroke="#b30000" stroke-width="2.5" stroke-dasharray="7.4 3.1 3.1 3.4" stroke-dashoffset="2.04"/>
</g>
<g stroke="#ababab" stroke-width="1" fill="none">
<path d="M80.5,605.5 V418.5 H383.5 V605.5 Z"/>
<path d="M80.5,605.50 h3.6 M80.5,599.27 h2.3 M80.5,593.03 h2.3 M80.5,586.80 h2.3 M80.5,580.57 h2.3 M80.5,574.33 h3.6 M80.5,568.10 h2.3 M80.5,561.87 h2.3 M80.5,555.63 h2.3 M80.5,549.40 h2.3 M80.5,543.17 h3.6 M80.5,536.93 h2.3 M80.5,530.70 h2.3 M80.5,524.47 h2.3 M80.5,518.23 h2.3 M80.5,512.00 h3.6 M80.5,505.77 h2.3 M80.5,499.53 h2.3 M80.5,493.30 h2.3 M80.5,487.07 h2.3 M80.5,480.83 h3.6 M80.5,474.60 h2.3 M80.5,468.37 h2.3 M80.5,462.13 h2.3 M80.5,455.90 h2.3 M80.5,449.67 h3.6 M80.5,443.43 h2.3 M80.5,437.20 h2.3 M80.5,430.97 h2.3 M80.5,424.73 h2.3 M80.5,418.50 h3.6 M156.50,605.5 v-3.4 M232.00,605.5 v-3.4 M307.50,605.5 v-3.4"/>
</g>
<g fill="none" stroke-width="2.8">
<path d="M91.6,23.1 H106" stroke="#000" stroke-width="2.5"/>
<path d="M91.6,55.1 H103.4" stroke="#0000ff" stroke-width="2.5" stroke-dasharray="4.2 3.2"/>
<path d="M91.6,92.4 H103.2" stroke="#00ff00" stroke-width="2.7"/>
<path d="M203,92.3 H227.5" stroke="#b30000" stroke-width="2.5" stroke-dasharray="7.6 3.6 3.2 2.5"/>
</g>
<g stroke="#000" stroke-width="1.1" fill="none">
<path d="M112.6,51.8 H121.6"/>
<path d="M112.6,90.9 H121.6"/>
<path d="M135.4,90.6 H144.3"/>
</g>
<g text-rendering="geometricPrecision" font-family="'Liberation Serif', serif" fill="#000">
<text font-size="13.6" text-anchor="start" letter-spacing="1.08" transform="translate(54.3,199.9) scale(0.88,1)">0.00</text>
<text font-size="13.6" text-anchor="start" letter-spacing="1.08" transform="translate(54.3,168.8) scale(0.88,1)">0.05</text>
<text font-size="13.6" text-anchor="start" letter-spacing="1.08" transform="translate(54.3,137.6) scale(0.88,1)">0.10</text>
<text font-size="13.6" text-anchor="start" letter-spacing="1.08" transform="translate(54.3,106.4) scale(0.88,1)">0.15</text>
<text font-size="13.6" text-anchor="start" letter-spacing="1.08" transform="translate(54.3,75.3) scale(0.88,1)">0.20</text>
<text font-size="13.6" text-anchor="start" letter-spacing="1.08" transform="translate(54.3,44.1) scale(0.88,1)">0.25</text>
<text font-size="13.6" text-anchor="start" letter-spacing="1.08" transform="translate(54.3,12.9) scale(0.88,1)">0.30</text>
<text x="323.5" y="182.2" font-size="15" text-anchor="start" letter-spacing="0.6">30−40%</text>
<text x="0" y="0" font-size="22" text-anchor="start" font-style="italic" transform="translate(30.8,108.8) scale(0.86,1)">v</text>
<text x="40.9" y="112.3" font-size="14.5" text-anchor="start">2</text>
<text font-size="13.6" text-anchor="start" letter-spacing="1.08" transform="translate(54.3,404.9) scale(0.88,1)">0.00</text>
<text font-size="13.6" text-anchor="start" letter-spacing="1.08" transform="translate(54.3,373.8) scale(0.88,1)">0.05</text>
<text font-size="13.6" text-anchor="start" letter-spacing="1.08" transform="translate(54.3,342.6) scale(0.88,1)">0.10</text>
<text font-size="13.6" text-anchor="start" letter-spacing="1.08" transform="translate(54.3,311.4) scale(0.88,1)">0.15</text>
<text font-size="13.6" text-anchor="start" letter-spacing="1.08" transform="translate(54.3,280.3) scale(0.88,1)">0.20</text>
<text font-size="13.6" text-anchor="start" letter-spacing="1.08" transform="translate(54.3,249.1) scale(0.88,1)">0.25</text>
<text font-size="13.6" text-anchor="start" letter-spacing="1.08" transform="translate(54.3,217.9) scale(0.88,1)">0.30</text>
<text x="323.5" y="387.2" font-size="15" text-anchor="start" letter-spacing="0.6">40−50%</text>
<text x="0" y="0" font-size="22" text-anchor="start" font-style="italic" transform="translate(30.8,313.8) scale(0.86,1)">v</text>
<text x="40.9" y="317.3" font-size="14.5" text-anchor="start">2</text>
<text font-size="13.6" text-anchor="start" letter-spacing="1.08" transform="translate(54.3,610.0) scale(0.88,1)">0.00</text>
<text font-size="13.6" text-anchor="start" letter-spacing="1.08" transform="translate(54.3,578.8) scale(0.88,1)">0.05</text>
<text font-size="13.6" text-anchor="start" letter-spacing="1.08" transform="translate(54.3,547.6) scale(0.88,1)">0.10</text>
<text font-size="13.6" text-anchor="start" letter-spacing="1.08" transform="translate(54.3,516.5) scale(0.88,1)">0.15</text>
<text font-size="13.6" text-anchor="start" letter-spacing="1.08" transform="translate(54.3,485.3) scale(0.88,1)">0.20</text>
<text font-size="13.6" text-anchor="start" letter-spacing="1.08" transform="translate(54.3,454.1) scale(0.88,1)">0.25</text>
<text font-size="13.6" text-anchor="start" letter-spacing="1.08" transform="translate(54.3,422.9) scale(0.88,1)">0.30</text>
<text x="323.5" y="592.2" font-size="15" text-anchor="start" letter-spacing="0.6">50−60%</text>
<text x="0" y="0" font-size="22" text-anchor="start" font-style="italic" transform="translate(30.8,518.8) scale(0.86,1)">v</text>
<text x="40.9" y="522.3" font-size="14.5" text-anchor="start">2</text>
<text font-size="13.6" text-anchor="start" letter-spacing="0.91" transform="translate(148.1,619.1) scale(0.88,1)">0.5</text>
<text font-size="13.6" text-anchor="start" letter-spacing="1.02" transform="translate(227.2,619.1) scale(0.88,1)">1.</text>
<text font-size="13.6" text-anchor="start" letter-spacing="0.11" transform="translate(299.8,619.1) scale(0.88,1)">1.5</text>
<text font-size="13.6" text-anchor="start" transform="translate(378.6,619.1) scale(0.88,1)">2</text>
<text x="204.5" y="637.7" font-size="13" text-anchor="start" font-style="italic">p</text>
<text x="212.9" y="640.3" font-size="10.3" text-anchor="start" font-style="italic">T</text>
<text x="225.3" y="638.8" font-size="12.8" text-anchor="start">[GeV]</text>
<text x="111.4" y="28.6" font-size="15.2" text-anchor="start" letter-spacing="1.0">ideal</text>
<text x="113.7" y="46.8" font-size="14.4" text-anchor="start" font-style="italic">η</text>
<text x="114" y="71" font-size="14.4" text-anchor="start" font-style="italic">s</text>
<text x="113.7" y="85.3" font-size="14.4" text-anchor="start" font-style="italic">η</text>
<text x="114" y="109.6" font-size="14.4" text-anchor="start" font-style="italic">s</text>
<text x="125.2" y="98.7" font-size="16" text-anchor="start">+</text>
<text x="136.4" y="84.4" font-size="13.8" text-anchor="start" font-style="italic">ζ</text>
<text x="137" y="109.6" font-size="14.4" text-anchor="start" font-style="italic">s</text>
<text x="151.6" y="96.9" font-size="14.6" text-anchor="start" letter-spacing="1.0">MOM</text>
<text x="232.1" y="96.9" font-size="14.6" text-anchor="start" letter-spacing="2.2">MH</text>
<text x="111.5" y="461" font-size="14.5" text-anchor="start" letter-spacing="1.3">b.)</text>
</g>
</svg>
</body></html>
